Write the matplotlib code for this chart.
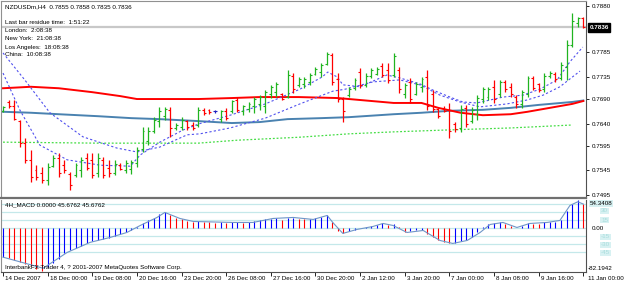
import numpy as np
import matplotlib.pyplot as plt
from matplotlib.transforms import blended_transform_factory

plt.rcParams['font.family'] = ['Liberation Sans', 'DejaVu Sans']

# NZDUSD H4 bars, index 0 = 14 Dec 2007 ... 104 = 11 Jan 00:00
highs = [0.7676, 0.7688, 0.7688, 0.7647, 0.7611, 0.7586, 0.7555, 0.7551, 0.7559, 0.7576,
         0.7580, 0.7566, 0.7541, 0.7559, 0.7572, 0.7580, 0.7580, 0.7580, 0.7572, 0.7566,
         0.7566, 0.7559, 0.7566, 0.7566, 0.7592, 0.7633, 0.7633, 0.7653, 0.7674, 0.7674,
         0.7674, 0.7641, 0.7653, 0.7647, 0.7643, 0.7674, 0.7672, 0.7670, 0.7668, 0.7668,
         0.7672, 0.7688, 0.7694, 0.7678, 0.7684, 0.7694, 0.7698, 0.7708, 0.7719, 0.7725,
         0.7702, 0.7749, 0.7743, 0.7735, 0.7735, 0.7743, 0.7755, 0.7763, 0.7786, 0.7784,
         0.7743, 0.7694, 0.7715, 0.7733, 0.7753, 0.7743, 0.7753, 0.7755, 0.7763, 0.7763,
         0.7784, 0.7755, 0.7723, 0.7733, 0.7725, 0.7735, 0.7749, 0.7708, 0.7672, 0.7676,
         0.7682, 0.7643, 0.7678, 0.7678, 0.7674, 0.7698, 0.7715, 0.7715, 0.7729, 0.7729,
         0.7729, 0.7723, 0.7698, 0.7708, 0.7737, 0.7737, 0.7723, 0.7743, 0.7747, 0.7745,
         0.7766, 0.7810, 0.7865, 0.7857, 0.7858]
lows = [0.7664, 0.7672, 0.7647, 0.7592, 0.7559, 0.7521, 0.7525, 0.7519, 0.7515, 0.7551,
        0.7531, 0.7539, 0.7504, 0.7531, 0.7531, 0.7545, 0.7529, 0.7531, 0.7529, 0.7531,
        0.7535, 0.7545, 0.7539, 0.7537, 0.7551, 0.7582, 0.7596, 0.7621, 0.7633, 0.7647,
        0.7613, 0.7627, 0.7627, 0.7627, 0.7627, 0.7633, 0.7657, 0.7660, 0.7662, 0.7643,
        0.7647, 0.7662, 0.7664, 0.7657, 0.7664, 0.7662, 0.7668, 0.7662, 0.7692, 0.7694,
        0.7688, 0.7692, 0.7702, 0.7715, 0.7712, 0.7719, 0.7739, 0.7735, 0.7759, 0.7719,
        0.7684, 0.7643, 0.7694, 0.7708, 0.7712, 0.7715, 0.7733, 0.7739, 0.7735, 0.7723,
        0.7735, 0.7702, 0.7692, 0.7682, 0.7698, 0.7704, 0.7668, 0.7664, 0.7651, 0.7664,
        0.7611, 0.7623, 0.7623, 0.7633, 0.7641, 0.7647, 0.7682, 0.7688, 0.7682, 0.7694,
        0.7704, 0.7694, 0.7672, 0.7672, 0.7694, 0.7708, 0.7704, 0.7704, 0.7733, 0.7725,
        0.7729, 0.7729, 0.7796, 0.7837, 0.7835]
opens = [0.7666, 0.7684, 0.7676, 0.7645, 0.7600, 0.7566, 0.7545, 0.7540, 0.7525, 0.7553,
         0.7570, 0.7555, 0.7538, 0.7535, 0.7545, 0.7570, 0.7565, 0.7540, 0.7565, 0.7550,
         0.7540, 0.7556, 0.7545, 0.7548, 0.7560, 0.7588, 0.7605, 0.7625, 0.7645, 0.7655,
         0.7668, 0.7630, 0.7632, 0.7645, 0.7638, 0.7638, 0.7668, 0.7668, 0.7665, 0.7650,
         0.7665, 0.7665, 0.7688, 0.7665, 0.7670, 0.7675, 0.7680, 0.7675, 0.7700, 0.7705,
         0.7700, 0.7695, 0.7738, 0.7718, 0.7720, 0.7725, 0.7742, 0.7745, 0.7762, 0.7780,
         0.7730, 0.7690, 0.7698, 0.7712, 0.7745, 0.7718, 0.7738, 0.7742, 0.7758, 0.7750,
         0.7740, 0.7750, 0.7700, 0.7725, 0.7700, 0.7715, 0.7735, 0.7700, 0.7670, 0.7672,
         0.7668, 0.7640, 0.7630, 0.7672, 0.7645, 0.7660, 0.7690, 0.7695, 0.7715, 0.7700,
         0.7725, 0.7715, 0.7695, 0.7680, 0.7700, 0.7732, 0.7720, 0.7710, 0.7736, 0.7742,
         0.7732, 0.7755, 0.7800, 0.7845, 0.7855]
closes = [0.7674, 0.7675, 0.7650, 0.7600, 0.7565, 0.7530, 0.7530, 0.7525, 0.7552, 0.7570,
          0.7540, 0.7545, 0.7515, 0.7555, 0.7565, 0.7550, 0.7535, 0.7570, 0.7535, 0.7540,
          0.7558, 0.7548, 0.7560, 0.7562, 0.7585, 0.7625, 0.7625, 0.7648, 0.7665, 0.7670,
          0.7630, 0.7638, 0.7648, 0.7632, 0.7630, 0.7668, 0.7662, 0.7663, 0.7665, 0.7665,
          0.7652, 0.7685, 0.7668, 0.7675, 0.7680, 0.7690, 0.7695, 0.7705, 0.7715, 0.7720,
          0.7690, 0.7740, 0.7710, 0.7730, 0.7730, 0.7740, 0.7752, 0.7760, 0.7782, 0.7725,
          0.7690, 0.7665, 0.7710, 0.7728, 0.7718, 0.7738, 0.7750, 0.7752, 0.7740, 0.7728,
          0.7778, 0.7710, 0.7718, 0.7690, 0.7720, 0.7730, 0.7675, 0.7670, 0.7655, 0.7666,
          0.7625, 0.7628, 0.7670, 0.7640, 0.7668, 0.7692, 0.7710, 0.7710, 0.7690, 0.7725,
          0.7710, 0.7700, 0.7680, 0.7705, 0.7732, 0.7712, 0.7708, 0.7738, 0.7744, 0.7730,
          0.7760, 0.7800, 0.7850, 0.7855, 0.7836]

# moving averages read at sample bars
ma_red_idx = [0, 5, 10, 16, 21, 24, 35, 41, 46, 53, 60, 64, 70, 75, 78, 82, 86, 91, 94, 98, 102, 104]
ma_red_val = [0.7712, 0.7715, 0.7712, 0.7704, 0.7696, 0.7690, 0.7690, 0.7692, 0.7694, 0.7694, 0.7692,
              0.7688, 0.7682, 0.7682, 0.7672, 0.7662, 0.7657, 0.7659, 0.7664, 0.7672, 0.7680, 0.7686]
ma_blue_idx = [0, 5, 10, 17, 23, 28, 35, 41, 46, 51, 57, 62, 70, 75, 80, 86, 91, 96, 102, 104]
ma_blue_val = [0.7664, 0.7662, 0.7659, 0.7655, 0.7651, 0.7649, 0.7645, 0.7641, 0.7643, 0.7649,
               0.7651, 0.7653, 0.7659, 0.7662, 0.7666, 0.7668, 0.7672, 0.7678, 0.7684, 0.7687]
ma_green_idx = [0, 17, 35, 42, 53, 62, 70, 80, 91, 102]
ma_green_val = [0.7602, 0.7600, 0.7600, 0.7606, 0.7612, 0.7619, 0.7623, 0.7627, 0.7631, 0.7637]
ma_fast_idx = [0, 3, 6.6, 11.5, 17.4, 22.8, 24.6, 28.1, 32.3, 35.3, 40.7, 47, 53.2, 57.2, 58.2,
               59.9, 60.9, 64, 68.8, 71.1, 74.7, 77.1, 80.1, 82.4, 84.9, 87.3, 89.6, 93.2, 96.2,
               99.3, 101.6, 103.9]
ma_fast_val = [0.7743, 0.7668, 0.7596, 0.7566, 0.7555, 0.7553, 0.7576, 0.7602, 0.7627, 0.7640,
               0.7657, 0.7680, 0.7710, 0.7735, 0.7745, 0.7735, 0.7719, 0.7715, 0.7739, 0.7733,
               0.7721, 0.7708, 0.7694, 0.7684, 0.7682, 0.7688, 0.7694, 0.7698, 0.7710, 0.7729,
               0.7766, 0.7796]
ma_slow_idx = [0, 3.9, 8.4, 14.3, 20.4, 24, 28.1, 33, 35.3, 40.7, 47, 53.2, 59.1, 61.3, 66.3,
               71.1, 74.7, 78.3, 81.9, 85.5, 90.3, 93.9, 96.8, 99.8, 103.4]
ma_slow_val = [0.7784, 0.7729, 0.7662, 0.7613, 0.7590, 0.7582, 0.7592, 0.7617, 0.7619, 0.7631,
               0.7651, 0.7680, 0.7706, 0.7710, 0.7725, 0.7729, 0.7719, 0.7698, 0.7684, 0.7674,
               0.7680, 0.7688, 0.7698, 0.7715, 0.7747]

# 4H_MACD histogram (one value per bar) and its line
macd = [-55, -57, -60, -64, -68, -72, -77, -82.19, -74, -66, -58, -48, -42, -37, -33, -28, -25,
        -22, -20, -18, -14, -11, -8, -4, 3, 9, 15, 20, 26, 30, 25, 20, 17, 14, 12, 13, 12, 11, 10,
        12, 10, 11, 12, 10, 11, 13, 15, 17, 18, 19, 16, 20, 20, 18, 17, 17, 20, 22, 24, 12, -5,
        -10, -6, -3, 0, 2, 4, 6, 9, 6, 7, 2, -8, -6, -4, -4, -12, -16, -23, -26, -29, -28, -24,
        -23, -16, -8, 2, 7, 9, 11, 8, 5, 1, 4, 9, 8, 7, 11, 12, 12, 15, 33, 46, 54.34, 45.68]
sig_idx = [0, 7.2, 11.5, 15.6, 19.2, 22.2, 24.6, 27.6, 29, 31.7, 34.1, 41.2, 44.8, 48.4, 52, 55.6,
           58.1, 59.1, 60.9, 63.4, 66.3, 68.1, 69.9, 72.4, 75.3, 78.3, 80.6, 83.2, 85.5, 87.3,
           89.6, 92.1, 94.4, 97.5, 99.8, 101.6, 103, 104]
sig_val = [-55, -76, -46, -27, -17.6, -8.2, 5.1, 20.3, 29.8, 18.4, 12.7, 10.8, 10.8, 18.4, 20.3,
           16.5, 24.1, 10.8, -10, -2.5, 3.2, 8.9, 5.1, -8.2, -4.4, -23.3, -29, -23.3, -8.2, 7,
           10.8, 1.3, 8.9, 10.8, 14.6, 43, 50, 45.68]

tick_idx = [0, 8, 16, 24, 32, 40, 48, 56, 64, 72, 80, 88, 96, 104]
tick_labels = ["14 Dec 2007", "18 Dec 00:00", "19 Dec 08:00", "20 Dec 16:00", "23 Dec 20:00",
               "26 Dec 08:00", "27 Dec 16:00", "30 Dec 20:00", "2 Jan 12:00", "3 Jan 20:00",
               "7 Jan 00:00", "8 Jan 08:00", "9 Jan 16:00", "11 Jan 00:00"]
price_ticks = [0.7880, 0.7785, 0.7735, 0.7690, 0.7640, 0.7595, 0.7545, 0.7495]

W, H = 625, 285
FS = 4.5


def rect(x0, y0, x1, y1):
    return [x0 / W, 1 - y1 / H, (x1 - x0) / W, (y1 - y0) / H]


def ftext(x, y, s, **kw):
    fig.text(x / W, 1 - y / H, s, va='center', ha='left', fontsize=FS, **kw)


fig = plt.figure(figsize=(6.25, 2.85), dpi=100)
ax = fig.add_axes(rect(1.5, 1, 586, 197.5))
mx = fig.add_axes(rect(1.5, 199.5, 586, 271.5), sharex=ax)

idx = np.arange(len(closes))
cols = []
for o, c in zip(opens, closes):
    cols.append('#20b420' if c > o else ('#ff0000' if c < o else '#2020c0'))

ax.axhline(0.7836, color='#c8c8c8', lw=1.6, zorder=0.5)
ax.plot(ma_green_idx, ma_green_val, color='#44dd44', lw=0.9, ls=(0, (1.5, 1.5)))
ax.plot(ma_blue_idx, ma_blue_val, color='#4a82b0', lw=1.4)
ax.plot(ma_red_idx, ma_red_val, color='#ff0000', lw=1.4)
ax.plot(ma_slow_idx, ma_slow_val, color='#5050ee', lw=0.8, ls=(0, (2, 2)))
ax.plot(ma_fast_idx, ma_fast_val, color='#5050ee', lw=0.8, ls=(0, (2, 2)))
ax.vlines(idx, lows, highs, colors=cols, lw=0.9)
ax.hlines(opens, idx - 0.35, idx, colors=cols, lw=0.8)
ax.hlines(closes, idx, idx + 0.35, colors=cols, lw=0.8)

ax.set_xlim(-0.27, 104.48)
ax.set_ylim(0.74891, 0.78900)
ax.yaxis.tick_right()
ax.set_yticks(price_ticks)
ax.set_yticklabels(['%.4f' % p for p in price_ticks])
ax.tick_params(axis='y', length=2.5, width=0.6, pad=1.5, labelsize=FS, colors='black')
ax.tick_params(axis='x', bottom=False, labelbottom=False)
for s in ['left', 'top']:
    ax.spines[s].set_color('#909090')
    ax.spines[s].set_linewidth(0.8)
ax.spines['right'].set_color('#505050')
ax.spines['bottom'].set_color('#707070')
ax.spines['bottom'].set_linewidth(1.6)

tr = blended_transform_factory(ax.transAxes, ax.transData)
ax.text(1.006, 0.7836, '0.7836', transform=tr, ha='left', va='center', fontsize=FS,
        color='white', fontweight='bold',
        bbox=dict(boxstyle='square,pad=0.25', fc='black', ec='black'))

# MACD panel
for lv in [45, 30, 15, 0, -15, -30, -45]:
    mx.axhline(lv, color='#c4e8ea', lw=0.9, zorder=0)
mcols = ['#0000ff'] + ['#0000ff' if macd[i] >= macd[i - 1] else '#ff0000' for i in range(1, len(macd))]
mx.vlines(idx, 0, macd, colors=mcols, lw=0.8)
mx.plot(sig_idx, sig_val, color='#6f96c8', lw=0.8)
mx.set_ylim(-82.1942, 54.3408)
mx.set_yticks([])
mx.set_xticks(tick_idx)
mx.tick_params(axis='x', length=3, width=0.6, direction='out', labelbottom=False, color='black')
mx.spines['left'].set_color('#909090')
mx.spines['left'].set_linewidth(0.8)
mx.spines['right'].set_color('#505050')
mx.spines['top'].set_visible(False)
mx.spines['bottom'].set_color('#505050')

for i, lab in zip(tick_idx, tick_labels):
    dx = 3.5 if lab == tick_labels[-1] else 1.4
    mx.annotate(lab, xy=(i, 0), xycoords=('data', 'axes fraction'), xytext=(dx, -4.8),
                textcoords='offset points', ha='left', va='center', fontsize=FS)

# right-hand labels of the MACD window
ftext(590, 203.5, '54.3408', bbox=dict(boxstyle='square,pad=0.1', fc='#d7f1f2', ec='none'))
ftext(592, 228.5, '0.00')
ftext(588, 268.5, '-82.1942')
for lab, yy in [('30', 211), ('15', 220), ('-15', 237), ('-30', 245), ('-45', 253)]:
    ftext(601, yy, lab, color='#a8dcdc',
          bbox=dict(boxstyle='square,pad=0.15', fc='#d7f1f2', ec='none'))

# chart texts
ftext(5, 7, 'NZDUSDm,H4  0.7855 0.7858 0.7835 0.7836')
ftext(5, 23, 'Last bar residue time:  1:51:22')
ftext(5, 31, 'London:  2:08:38')
ftext(5, 39, 'New York:  21:08:38')
ftext(5, 47, 'Los Angeles:  18:08:38')
ftext(5, 55, 'China:  10:08:38')
ftext(5, 205, '4H_MACD 0.0000 45.6762 45.6762')
ftext(5, 267.5, 'InterbankFX Trader 4, ? 2001-2007 MetaQuotes Software Corp.')

fig.savefig('out.png', dpi=100)
